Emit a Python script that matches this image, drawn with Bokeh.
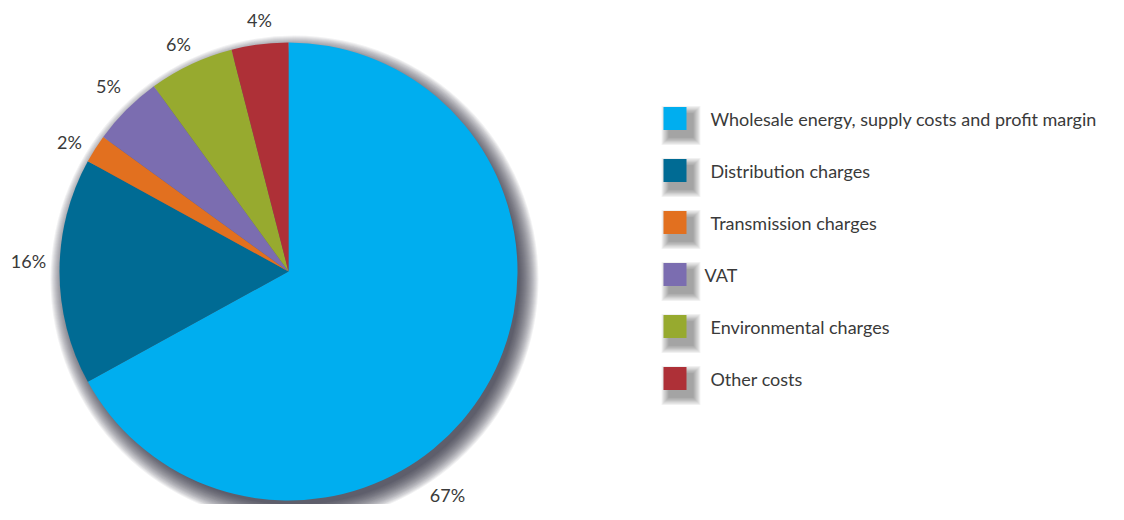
import math
from bokeh.plotting import figure
from bokeh.models import ColumnDataSource, Range1d
from bokeh.core.properties import value
from bokeh.embed import file_html
from bokeh.resources import INLINE

categories = ["Wholesale energy, supply costs and profit margin", "Distribution charges",
              "Transmission charges", "VAT", "Environmental charges", "Other costs"]
shares = [67, 16, 2, 5, 6, 4]
labels = ["67%", "16%", "2%", "5%", "6%", "4%"]
colors = ["#00AEEF", "#006B94", "#E2701F", "#7B6DB0", "#97AA2F", "#AE3037"]

W, H = 1108, 504
FONT = "Lato"

def wy(y):  # picture y -> data y
    return H - y

def wx(x):
    return x

p = figure(width=W, height=H, output_backend="svg", toolbar_location=None,
           x_range=Range1d(0, W), y_range=Range1d(0, H), min_border=0)
p.axis.visible = False
p.grid.visible = False
p.outline_line_color = None
p.background_fill_color = "white"

cx, cy, R = wx(288), wy(271), 229

# soft shadow
for k in range(20):
    p.circle(x=[cx + 6], y=[cy - 8], radius=R + 15 - k * 1.0, radius_units="screen",
             fill_color="#25252f", fill_alpha=0.06, line_color=None)

total = sum(shares)
starts, ends = [], []
cum = 0
for s in shares:
    a0 = math.pi / 2 - 2 * math.pi * cum / total
    cum += s
    a1 = math.pi / 2 - 2 * math.pi * cum / total
    starts.append(a1)
    ends.append(a0)

src = ColumnDataSource(dict(start=starts, end=ends, color=colors, cat=categories))
p.wedge(x=cx, y=cy, radius=R, radius_units="screen", start_angle="start", end_angle="end",
        fill_color="color", line_color=None, source=src)

# slice labels (picture positions)
label_pos = [(447, 494), (28, 260), (69, 141), (108, 85), (178, 43), (259, 19)]
p.text(x=[wx(a) for a, b in label_pos], y=[wy(b) for a, b in label_pos], text=labels,
       text_font=value(FONT), text_font_size="18px", text_color="#3a3a3a",
       text_align="center", text_baseline="middle")

# legend
leg_x, leg_y0, leg_dy, sq = 674.5, 118, 52, 23
ly = [wy(leg_y0 + i * leg_dy) for i in range(len(categories))]
for k in range(10):
    p.rect(x=[wx(leg_x) + 6] * len(ly), y=[v - 7 for v in ly], width=sq + 16 - k * 1.6,
           height=sq + 16 - k * 1.6, width_units="screen", height_units="screen",
           fill_color="#25252f", fill_alpha=0.05, line_color=None)
p.rect(x=[wx(leg_x)] * len(ly), y=ly, width=sq, height=sq, width_units="screen",
       height_units="screen", fill_color=colors, line_color=None)
text_x = [wx(710), wx(710), wx(710), wx(704), wx(710), wx(710)]
p.text(x=text_x, y=ly, text=categories, text_font=value(FONT), text_font_size="18px",
       text_color="#3a3a3a", text_align="left", text_baseline="middle")

open("out.html", "w").write(file_html(p, INLINE))
